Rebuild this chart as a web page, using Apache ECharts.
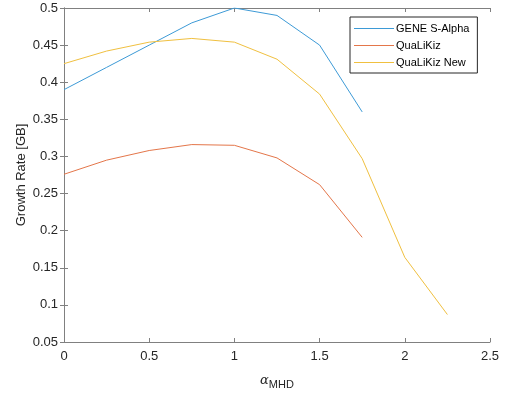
<!DOCTYPE html>
<html>
<head>
<meta charset="utf-8">
<script src="https://cdn.jsdelivr.net/npm/echarts@6/dist/echarts.min.js"></script>
<style>
  html, body { margin: 0; padding: 0; background: #fff; }
  #chart { width: 512px; height: 396px; }
</style>
</head>
<body>
<div id="chart"></div>
<script>
// alpha_MHD sample points
const alphaMHD = [0, 0.25, 0.5, 0.75, 1, 1.25, 1.5, 1.75, 2, 2.25];
const geneSAlpha = [0.39, 0.42, 0.45, 0.48, 0.5, 0.49, 0.45, 0.36];
const quaLiKiz = [0.276, 0.295, 0.308, 0.316, 0.315, 0.298, 0.262, 0.191];
const quaLiKizNew = [0.425, 0.442, 0.454, 0.459, 0.454, 0.431, 0.384, 0.297, 0.164, 0.087];

const pairs = (ys) => ys.map((y, i) => [alphaMHD[i], y]);

const font = "'Liberation Sans', Arial, sans-serif";
const axisGray = "#808080";
const textDark = "#262626";

const chart = echarts.init(document.getElementById("chart"));

const hiddenAxis = {
  axisLine: { show: true, lineStyle: { color: axisGray, width: 1 } },
  axisTick: { show: true, inside: true, length: 4, lineStyle: { color: axisGray } },
  axisLabel: { show: false },
  splitLine: { show: false }
};

const option = {
  animation: false,
  backgroundColor: "#fff",
  grid: { left: 64, right: 22, top: 8, bottom: 54, outerBoundsMode: "none" },
  legend: {
    orient: "vertical",
    left: 350,
    top: 17,
    padding: [5, 8, 4, 4],
    icon: "rect",
    itemWidth: 40,
    itemHeight: 1,
    itemGap: 4,
    backgroundColor: "#fff",
    borderColor: "#262626",
    borderWidth: 1,
    textStyle: { fontFamily: font, fontSize: 11, color: "#000", lineHeight: 13, padding: [0, 0, 0, -3] },
    data: ["GENE S-Alpha", "QuaLiKiz", "QuaLiKiz New"]
  },
  xAxis: [
    {
      type: "value",
      min: 0,
      max: 2.5,
      interval: 0.5,
      name: "{a|α}{s|MHD}",
      nameLocation: "middle",
      nameMoveOverlap: false,
      nameGap: 29,
      nameTextStyle: {
        rich: {
          a: { fontFamily: "'DejaVu Serif', serif", fontStyle: "italic", fontSize: 13, color: textDark },
          s: { fontFamily: font, fontSize: 11, color: textDark, padding: [8, 0, 0, 0] }
        }
      },
      axisLine: { show: true, lineStyle: { color: axisGray, width: 1 } },
      axisTick: { show: true, inside: true, length: 4, lineStyle: { color: axisGray } },
      axisLabel: { fontFamily: font, fontSize: 13, color: textDark, margin: 8 },
      splitLine: { show: false }
    },
    Object.assign({ type: "value", position: "top", min: 0, max: 2.5, interval: 0.5 }, hiddenAxis)
  ],
  yAxis: [
    {
      type: "value",
      min: 0.05,
      max: 0.5,
      interval: 0.05,
      name: "Growth Rate [GB]",
      nameLocation: "middle",
      nameMoveOverlap: false,
      nameGap: 36,
      nameTextStyle: { fontFamily: font, fontSize: 13, color: textDark },
      axisLine: { show: true, lineStyle: { color: axisGray, width: 1 } },
      axisTick: { show: true, inside: true, length: 4, lineStyle: { color: axisGray } },
      axisLabel: {
        fontFamily: font, fontSize: 13, color: textDark, margin: 6,
        formatter: (v) => String(Math.round(v * 100) / 100)
      },
      splitLine: { show: false }
    },
    Object.assign({ type: "value", position: "right", min: 0.05, max: 0.5, interval: 0.05 }, hiddenAxis)
  ],
  series: [
    {
      name: "GENE S-Alpha",
      type: "line",
      symbol: "none",
      color: "#3D9AD6",
      lineStyle: { width: 1 },
      data: pairs(geneSAlpha)
    },
    {
      name: "QuaLiKiz",
      type: "line",
      symbol: "none",
      color: "#E4764A",
      lineStyle: { width: 1 },
      data: pairs(quaLiKiz)
    },
    {
      name: "QuaLiKiz New",
      type: "line",
      symbol: "none",
      color: "#F0C040",
      lineStyle: { width: 1 },
      data: pairs(quaLiKizNew)
    }
  ]
};

chart.setOption(option);
</script>
</body>
</html>
